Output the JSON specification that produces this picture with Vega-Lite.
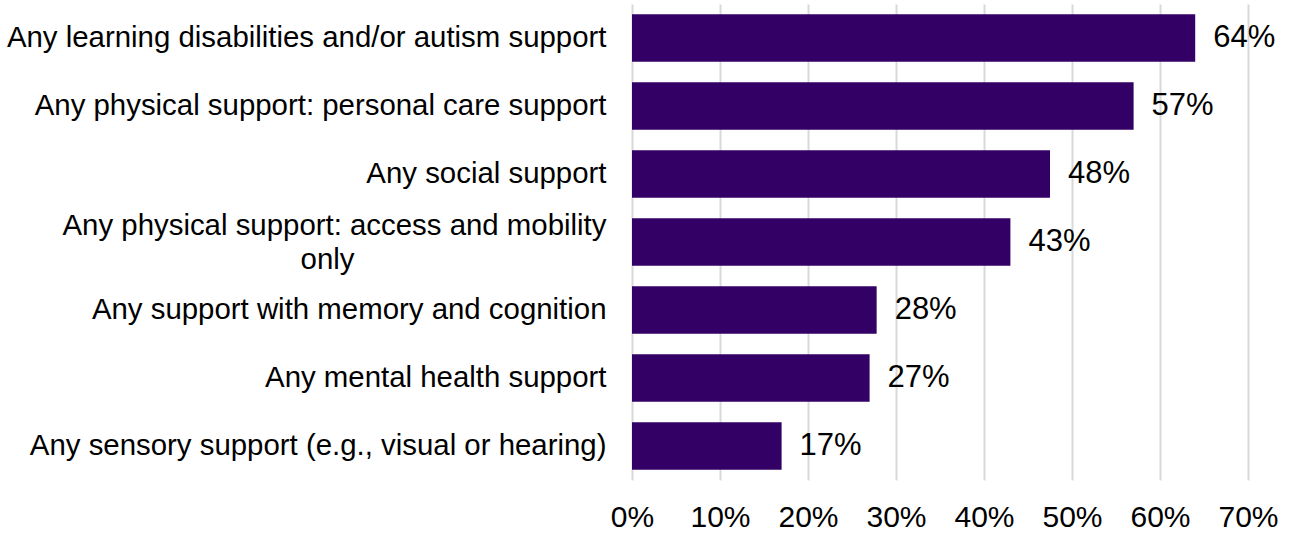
{
  "$schema": "https://vega.github.io/schema/vega-lite/v6.json",
  "width": 616,
  "height": 476,
  "autosize": {"type": "none"},
  "padding": {"left": 632, "top": 4, "right": 44, "bottom": 53},
  "background": "white",
  "config": {"view": {"stroke": null}, "font": "Liberation Sans"},
  "data": {"values": [
    {"category": "Any learning disabilities and/or autism support", "value": 0.64},
    {"category": "Any physical support: personal care support", "value": 0.57},
    {"category": "Any social support", "value": 0.475},
    {"category": "Any physical support: access and mobility only", "value": 0.43},
    {"category": "Any support with memory and cognition", "value": 0.278},
    {"category": "Any mental health support", "value": 0.27},
    {"category": "Any sensory support (e.g., visual or hearing)", "value": 0.17}
  ]},
  "encoding": {
    "y": {"field": "category", "type": "nominal", "sort": null,
      "scale": {"paddingInner": 0.3, "paddingOuter": 0.15},
      "axis": {"title": null, "domain": false, "ticks": false, "labelFontSize": 29.4, "labelColor": "#000000", "labelPadding": 26, "labelLimit": 700,
        "labelExpr": "datum.value == 'Any physical support: access and mobility only' ? ['Any physical support: access and mobility', 'only\u2800\u2800\u2800\u2800\u2800\u2800\u2800\u2800\u2800\u2800\u2800\u2800'] : datum.value", "labelLineHeight": 34,
        "labelOffset": {"condition": {"test": "datum.value == 'Any physical support: access and mobility only'", "value": -16}, "value": 0}}},
    "x": {"field": "value", "type": "quantitative",
      "scale": {"domain": [0, 0.7], "nice": false},
      "axis": {"title": null, "format": ".0%", "values": [0, 0.1, 0.2, 0.3, 0.4, 0.5, 0.6, 0.7], "domain": false, "ticks": false, "grid": true, "gridColor": "#d9d9d9", "gridWidth": 2, "labelFontSize": 30, "labelColor": "#000000", "labelPadding": 22, "labelFlush": false}}
  },
  "layer": [
    {"mark": {"type": "bar", "color": "#330066"}},
    {"mark": {"type": "text", "align": "left", "baseline": "middle", "dx": 18, "fontSize": 31, "color": "#000000"},
      "encoding": {"text": {"field": "value", "type": "quantitative", "format": ".0%"}}}
  ]
}
